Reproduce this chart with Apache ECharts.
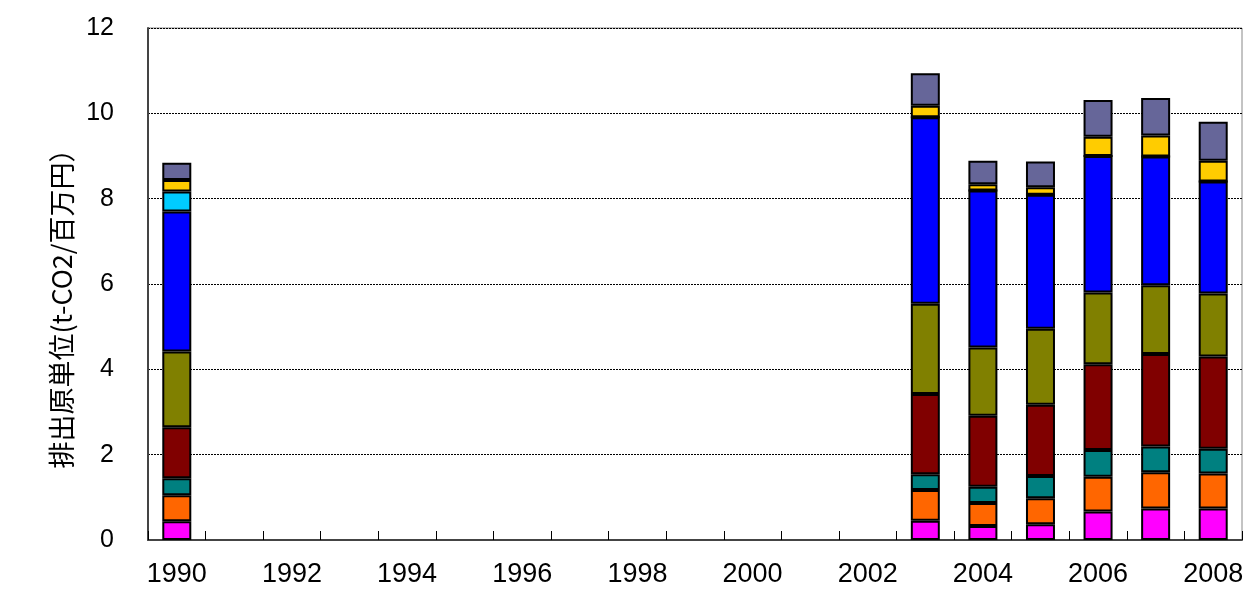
<!DOCTYPE html>
<html>
<head>
<meta charset="utf-8">
<script src="https://cdn.jsdelivr.net/npm/echarts@6/dist/echarts.min.js"></script>
<style>html,body{margin:0;padding:0;background:#fff;}#c{width:1250px;height:590px;}</style>
</head>
<body>
<div id="c"></div>
<script>
const years = ['1990','1991','1992','1993','1994','1995','1996','1997','1998','1999','2000','2001','2002','2003','2004','2005','2006','2007','2008'];
const N = null;
// stacked segments from bottom to top
const s1 = [0.44, N,N,N,N,N,N,N,N,N,N,N,N, 0.45, 0.33, 0.37, 0.67, 0.74, 0.74];
const s2 = [0.61, N,N,N,N,N,N,N,N,N,N,N,N, 0.72, 0.54, 0.61, 0.81, 0.85, 0.82];
const s3 = [0.40, N,N,N,N,N,N,N,N,N,N,N,N, 0.37, 0.38, 0.52, 0.63, 0.60, 0.58];
const s4 = [1.19, N,N,N,N,N,N,N,N,N,N,N,N, 1.88, 1.66, 1.67, 2.01, 2.17, 2.16];
const s5 = [1.78, N,N,N,N,N,N,N,N,N,N,N,N, 2.12, 1.60, 1.78, 1.68, 1.61, 1.48];
const s6 = [3.28, N,N,N,N,N,N,N,N,N,N,N,N, 4.37, 3.68, 3.14, 3.20, 3.02, 2.62];
const s7 = [0.47, N,N,N,N,N,N,N,N,N,N,N,N, 0, 0, 0, 0, 0, 0];
const s8 = [0.27, N,N,N,N,N,N,N,N,N,N,N,N, 0.27, 0.15, 0.18, 0.45, 0.49, 0.49];
const s9 = [0.40, N,N,N,N,N,N,N,N,N,N,N,N, 0.76, 0.55, 0.60, 0.86, 0.88, 0.91];
const seriesNames = ['系列1','系列2','系列3','系列4','系列5','系列6','系列7','系列8','系列9'];
const yTicks = [0, 2, 4, 6, 8, 10, 12];

const colors = ['#FF00FF','#FF6600','#008080','#800000','#808000','#0000FF','#00CCFF','#FFCC00','#666699'];
const data = [s1,s2,s3,s4,s5,s6,s7,s8,s9];

const chart = echarts.init(document.getElementById('c'));
chart.setOption({
  animation: false,
  backgroundColor: '#fff',
  grid: { left: 148, right: 8, top: 28, bottom: 50, show: true, borderColor: '#888', borderWidth: 1 },
  xAxis: {
    type: 'category',
    data: years,
    boundaryGap: true,
    axisLine: { lineStyle: { color: '#444', width: 2 } },
    axisTick: { show: true, inside: true, length: 9, interval: 0, lineStyle: { color: '#000', width: 1 } },
    axisLabel: { interval: 1, fontSize: 27, color: '#000', margin: 21, fontFamily: 'Liberation Sans, Arial, sans-serif' }
  },
  yAxis: {
    type: 'value',
    min: yTicks[0], max: yTicks[yTicks.length - 1], interval: 2,
    name: '排出原単位(t-CO2/百万円）',
    nameLocation: 'middle',
    nameGap: 66,
    nameRotate: 90,
    nameTextStyle: { fontSize: 27, color: '#000', fontFamily: 'Noto Sans CJK JP, sans-serif', padding: [0, 36, 0, 0] },
    axisLine: { show: true, lineStyle: { color: '#444', width: 2 } },
    axisTick: { show: false },
    axisLabel: { fontSize: 25, color: '#000', margin: 34, fontFamily: 'Liberation Sans, Arial, sans-serif' },
    splitLine: { show: true, lineStyle: { color: '#000', width: 1, type: [2, 1] } }
  },
  series: data.map((d, i) => ({
    name: seriesNames[i],
    type: 'bar',
    stack: 'total',
    data: d,
    barWidth: 29,
    itemStyle: { color: colors[i], borderColor: '#000', borderWidth: 2 }
  }))
});
</script>
</body>
</html>
